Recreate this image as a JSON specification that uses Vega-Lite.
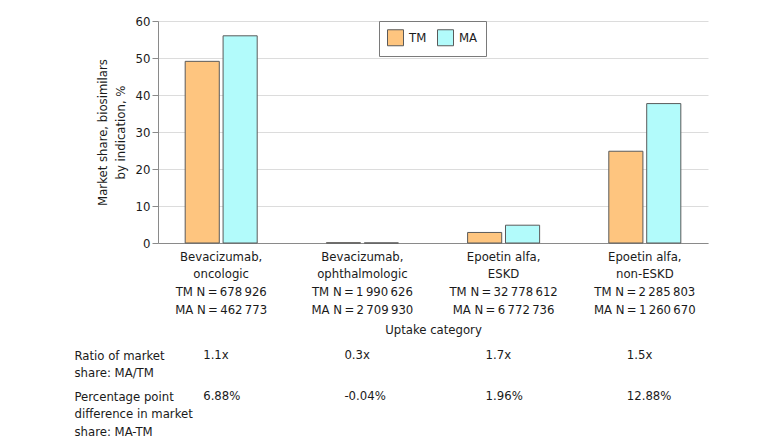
{
  "$schema": "https://vega.github.io/schema/vega-lite/v6.json",
  "padding": {"left": 74, "top": 15, "right": 5, "bottom": 0},
  "background": "white",
  "config": {
    "font": "DejaVu Sans Condensed",
    "view": {"stroke": null},
    "concat": {"spacing": 12},
    "axis": {
      "labelFont": "DejaVu Sans Condensed",
      "titleFont": "DejaVu Sans Condensed",
      "labelFontSize": 13,
      "titleFontSize": 13,
      "titleFontWeight": "normal",
      "labelColor": "#1a1a1a",
      "titleColor": "#1a1a1a",
      "domainColor": "#8a8a8a",
      "tickColor": "#8a8a8a",
      "gridColor": "#dcdcdc"
    },
    "legend": {
      "labelFont": "DejaVu Sans Condensed",
      "labelFontSize": 13,
      "labelColor": "#1a1a1a"
    }
  },
  "vconcat": [
    {
      "width": 550,
      "height": 222,
      "data": {
        "values": [
          {"category": "Bevacizumab,|oncologic|TM N\u2009=\u2009678\u2009926|MA N\u2009=\u2009462\u2009773", "plan": "TM", "share": 49.1},
          {"category": "Bevacizumab,|oncologic|TM N\u2009=\u2009678\u2009926|MA N\u2009=\u2009462\u2009773", "plan": "MA", "share": 56.0},
          {"category": "Bevacizumab,|ophthalmologic|TM N\u2009=\u20091\u2009990\u2009626|MA N\u2009=\u20092\u2009709\u2009930", "plan": "TM", "share": 0.06},
          {"category": "Bevacizumab,|ophthalmologic|TM N\u2009=\u20091\u2009990\u2009626|MA N\u2009=\u20092\u2009709\u2009930", "plan": "MA", "share": 0.02},
          {"category": "Epoetin alfa,|ESKD|TM N\u2009=\u200932\u2009778\u2009612|MA N\u2009=\u20096\u2009772\u2009736", "plan": "TM", "share": 2.85},
          {"category": "Epoetin alfa,|ESKD|TM N\u2009=\u200932\u2009778\u2009612|MA N\u2009=\u20096\u2009772\u2009736", "plan": "MA", "share": 4.81},
          {"category": "Epoetin alfa,|non-ESKD|TM N\u2009=\u20092\u2009285\u2009803|MA N\u2009=\u20091\u2009260\u2009670", "plan": "TM", "share": 24.8},
          {"category": "Epoetin alfa,|non-ESKD|TM N\u2009=\u20092\u2009285\u2009803|MA N\u2009=\u20091\u2009260\u2009670", "plan": "MA", "share": 37.68}
        ]
      },
      "mark": {"type": "bar", "stroke": "#5a5a5a", "strokeWidth": 1},
      "encoding": {
        "x": {
          "field": "category",
          "type": "nominal",
          "sort": null,
          "scale": {"paddingInner": 0.49, "paddingOuter": 0.1925},
          "axis": {
            "title": "Uptake category",
            "labelAngle": 0,
            "labelExpr": "split(datum.value, '|')",
            "labelLineHeight": 17.7,
            "labelBaseline": "top",
            "labelPadding": 7,
            "ticks": false,
            "titlePadding": 7
          }
        },
        "xOffset": {
          "field": "plan",
          "type": "nominal",
          "sort": ["TM", "MA"],
          "scale": {"paddingInner": 0.1}
        },
        "y": {
          "field": "share",
          "type": "quantitative",
          "scale": {"domain": [0, 60]},
          "axis": {
            "values": [0, 10, 20, 30, 40, 50, 60],
            "title": ["Market share, biosimilars", "by indication, %"],
            "titleLineHeight": 18,
            "titlePadding": 8,
            "tickSize": 6,
            "labelPadding": 2
          }
        },
        "color": {
          "field": "plan",
          "type": "nominal",
          "scale": {"domain": ["TM", "MA"], "range": ["#FEC57F", "#B2FBFB"]},
          "legend": {
            "title": null,
            "orient": "none",
            "legendX": 221,
            "legendY": 0,
            "direction": "horizontal",
            "fillColor": "white",
            "strokeColor": "#7a7a7a",
            "padding": 8,
            "symbolType": "square",
            "symbolSize": 256,
            "symbolStrokeColor": "#5a5a5a",
            "symbolStrokeWidth": 1,
            "labelOffset": 5,
            "columnPadding": 8
          }
        }
      }
    },
    {
      "width": 550,
      "height": 41,
      "data": {
        "values": [
          {"category": "Bevacizumab,|oncologic|TM N\u2009=\u2009678\u2009926|MA N\u2009=\u2009462\u2009773", "metric": "Ratio of market|share: MA/TM", "value": "1.1x"},
          {"category": "Bevacizumab,|ophthalmologic|TM N\u2009=\u20091\u2009990\u2009626|MA N\u2009=\u20092\u2009709\u2009930", "metric": "Ratio of market|share: MA/TM", "value": "0.3x"},
          {"category": "Epoetin alfa,|ESKD|TM N\u2009=\u200932\u2009778\u2009612|MA N\u2009=\u20096\u2009772\u2009736", "metric": "Ratio of market|share: MA/TM", "value": "1.7x"},
          {"category": "Epoetin alfa,|non-ESKD|TM N\u2009=\u20092\u2009285\u2009803|MA N\u2009=\u20091\u2009260\u2009670", "metric": "Ratio of market|share: MA/TM", "value": "1.5x"},
          {"category": "Bevacizumab,|oncologic|TM N\u2009=\u2009678\u2009926|MA N\u2009=\u2009462\u2009773", "metric": "Percentage point|difference in market|share: MA-TM", "value": "6.88%"},
          {"category": "Bevacizumab,|ophthalmologic|TM N\u2009=\u20091\u2009990\u2009626|MA N\u2009=\u20092\u2009709\u2009930", "metric": "Percentage point|difference in market|share: MA-TM", "value": "-0.04%"},
          {"category": "Epoetin alfa,|ESKD|TM N\u2009=\u200932\u2009778\u2009612|MA N\u2009=\u20096\u2009772\u2009736", "metric": "Percentage point|difference in market|share: MA-TM", "value": "1.96%"},
          {"category": "Epoetin alfa,|non-ESKD|TM N\u2009=\u20092\u2009285\u2009803|MA N\u2009=\u20091\u2009260\u2009670", "metric": "Percentage point|difference in market|share: MA-TM", "value": "12.88%"}
        ]
      },
      "mark": {"type": "text", "align": "left", "baseline": "top", "dx": -18, "fontSize": 13, "color": "#1a1a1a", "font": "DejaVu Sans Condensed"},
      "encoding": {
        "x": {
          "field": "category",
          "type": "nominal",
          "sort": null,
          "scale": {"type": "band", "paddingInner": 0.49, "paddingOuter": 0.1925},
          "axis": null
        },
        "y": {
          "field": "metric",
          "type": "nominal",
          "sort": null,
          "scale": {"type": "point", "padding": 0},
          "axis": {
            "title": null,
            "domain": false,
            "ticks": false,
            "grid": false,
            "labelAlign": "left",
            "labelBaseline": "top",
            "labelPadding": 84,
            "labelExpr": "split(datum.value, '|')",
            "labelLineHeight": 17.5
          }
        },
        "text": {"field": "value"}
      }
    }
  ]
}
